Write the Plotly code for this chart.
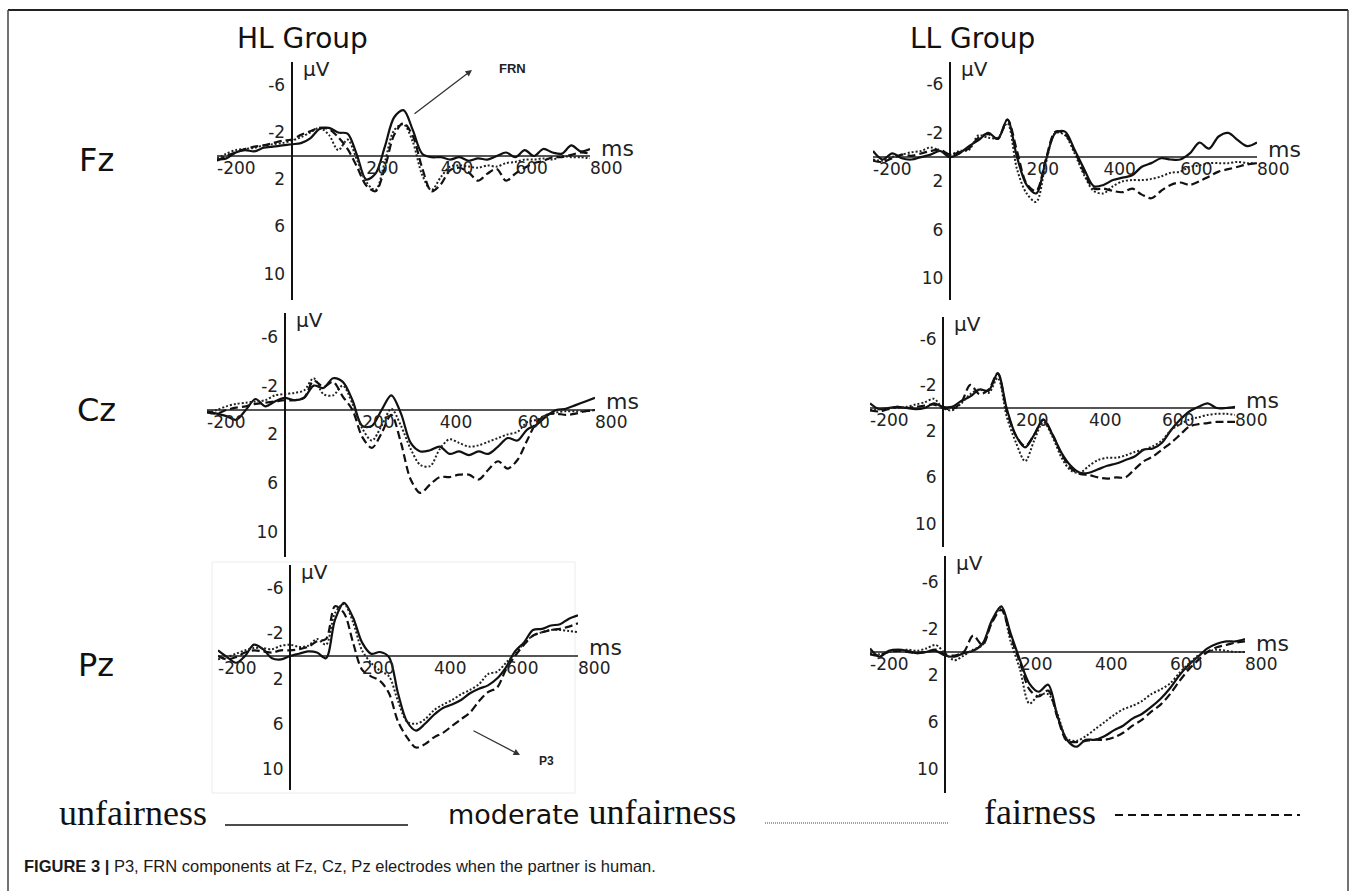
import plotly.graph_objects as go

W, H = 1357, 891

# ---------------- data (time in ms, amplitude in microvolts) ----------------
ms = list(range(-200, 801, 25))

conditions = ["unfairness", "moderate unfairness", "fairness"]
x_tick_vals = [-200, 200, 400, 600, 800]
x_tick_text = ["-200", "200", "400", "600", "800"]
y_tick_vals = [-6, -2, 2, 6, 10]
y_tick_text = ["-6", "-2", "2", "6", "10"]

hl_fz_unfair = [0.3, 0.2, -0.3, -0.5, -0.4, -0.7, -0.8, -0.9, -1.0, -1.1, -1.5, -2.3, -2.4, -2.0, -1.9, -0.1, 2.0, 1.5, -0.8, -3.3, -3.9, -2.2, -0.2, 0.1, 0.1, 0.3, 0.1, 0.4, 0.2, 0.3, 0.0, -0.3, 0.1, -0.5, 0.0, -0.6, -0.3, -0.2, -0.9, -0.4, -0.6]
hl_fz_moderate = [0.2, -0.2, -0.5, -0.6, -0.7, -0.9, -1.0, -1.1, -1.3, -1.6, -2.0, -2.4, -1.8, -0.5, -1.4, 0.3, 2.2, 2.9, 0.5, -2.2, -2.7, -1.2, 1.6, 2.9, 1.8, 0.9, 0.8, 0.9, 1.0, 0.8, 0.9, 0.6, 0.5, 0.3, 0.3, 0.2, 0.3, 0.0, 0.1, 0.1, 0.2]
hl_fz_fair = [0.4, 0.0, -0.3, -0.6, -0.8, -0.9, -1.1, -1.3, -1.4, -1.8, -2.1, -2.4, -2.3, -1.6, -0.6, 0.9, 2.5, 3.0, 1.0, -1.8, -2.8, -1.7, 1.0, 3.0, 2.4, 1.2, 1.0, 1.4, 2.1, 1.5, 1.1, 2.1, 1.5, 1.0, 0.6, 0.4, 0.1, 0.1, -0.1, -0.3, -0.2]

ll_fz_unfair = [-0.5, 0.2, -0.3, 0.1, 0.2, 0.0, -0.2, -0.5, 0.0, -0.3, -0.9, -1.4, -2.0, -1.5, -3.1, 0.0, 2.3, 3.0, 0.3, -2.0, -2.1, -0.6, 1.0, 2.4, 2.3, 1.9, 1.7, 1.5, 0.8, 0.5, 0.1, 0.2, 0.2, -0.3, -1.2, -0.7, -1.7, -2.0, -1.4, -0.9, -1.2]
ll_fz_moderate = [0.2, 0.3, 0.0, -0.2, -0.4, -0.5, -0.8, -0.5, -0.2, -0.5, -0.6, -1.8, -1.6, -1.6, -2.8, 1.0, 3.0, 3.7, 0.5, -2.0, -1.8, -0.3, 1.5, 2.8, 3.0, 2.4, 2.0, 1.9, 1.9, 1.8, 1.6, 1.3, 1.2, 0.8, 0.7, 0.5, 0.5, 0.5, 0.4, 0.5, 0.5]
ll_fz_fair = [0.3, 0.4, 0.1, -0.2, -0.1, -0.3, -0.5, -0.6, -0.2, -0.4, -0.7, -1.6, -1.9, -1.5, -3.1, -0.5, 2.2, 2.8, 0.2, -2.1, -1.9, -0.5, 1.3, 2.6, 2.6, 2.8, 2.9, 2.6, 3.1, 3.4, 2.8, 2.3, 2.1, 2.3, 2.0, 1.6, 1.2, 1.0, 0.8, 0.6, 0.5]

hl_cz_unfair = [0.1, 0.3, 0.5, 0.8, 0.0, -0.9, -0.3, -0.7, -1.0, -0.8, -1.0, -2.0, -1.8, -2.6, -2.3, -0.8, 1.3, 1.3, 0.0, -1.2, 0.3, 2.7, 3.4, 3.3, 3.0, 3.6, 3.4, 3.7, 3.4, 3.6, 3.0, 2.3, 2.5, 1.6, 1.2, 0.5, 0.0, -0.1, -0.4, -0.7, -1.0]
hl_cz_moderate = [0.2, 0.0, -0.3, -0.5, -0.6, -0.7, -0.8, -1.2, -1.3, -1.4, -1.6, -2.6, -1.3, -1.2, -2.0, -0.5, 1.5, 2.5, 1.3, -0.1, 1.3, 3.2, 4.5, 4.6, 3.2, 2.4, 2.7, 3.0, 2.9, 2.6, 2.3, 2.0, 1.8, 1.0, 0.8, 0.4, 0.2, 0.1, 0.1, 0.1, 0.0]
hl_cz_fair = [0.2, 0.3, 0.0, -0.2, -0.3, -0.5, -0.6, -0.7, -0.8, -0.8, -1.0, -2.4, -1.9, -2.3, -1.1, 0.0, 2.2, 3.1, 1.9, 0.4, 2.7, 5.7, 6.8, 6.1, 5.5, 5.5, 5.3, 5.3, 5.7, 4.9, 4.2, 4.8, 4.1, 2.5, 1.0, 0.4, 0.3, 0.4, 0.3, 0.1, 0.0]

ll_cz_unfair = [-0.4, 0.1, 0.0, -0.1, 0.0, 0.1, 0.0, -0.4, -0.1, -0.1, -0.6, -1.0, -1.6, -1.5, -3.0, 0.1, 2.4, 3.4, 2.3, 1.0, 2.3, 3.9, 5.0, 5.6, 5.6, 5.3, 5.0, 4.8, 4.5, 4.2, 3.6, 3.5, 3.0, 1.9, 1.0, 0.3, -0.1, -0.4, 0.0, 0.0, -0.1]
ll_cz_moderate = [0.2, 0.1, 0.0, 0.0, -0.1, -0.3, -0.5, -0.8, 0.0, 0.2, -0.4, -1.2, -1.6, -1.3, -2.6, 0.8, 3.0, 4.6, 2.8, 1.2, 2.5, 4.3, 5.4, 5.6, 5.0, 4.5, 4.3, 4.3, 4.1, 3.8, 3.6, 3.3, 2.8, 1.9, 1.4, 1.0, 0.8, 0.6, 0.5, 0.5, 0.6]
ll_cz_fair = [0.2, 0.3, 0.1, -0.1, 0.0, -0.1, -0.2, -0.3, 0.0, 0.1, -0.5, -2.0, -1.2, -1.6, -3.0, 0.3, 2.4, 3.3, 2.3, 1.0, 2.3, 4.0, 5.2, 5.7, 5.8, 6.0, 6.1, 6.0, 6.0, 5.3, 4.6, 4.2, 3.6, 3.0, 2.3, 1.6, 1.4, 1.3, 1.2, 1.2, 1.2]

hl_pz_unfair = [-0.5, 0.1, 0.6, 0.0, -1.0, -0.6, 0.2, 0.3, 0.0, -0.2, -0.4, -0.3, 0.2, -3.2, -4.7, -3.4, -1.2, -0.2, -0.35, 0.1, 3.3, 5.8, 6.6, 6.0, 5.2, 4.6, 4.3, 3.9, 3.3, 2.9, 2.6, 2.0, 1.0, -0.4, -1.2, -2.3, -2.4, -2.7, -2.8, -3.3, -3.6]
hl_pz_moderate = [0.3, 0.1, -0.2, -0.5, -0.7, -0.7, -0.6, -0.9, -1.0, -0.8, -0.9, -1.5, -1.0, -3.8, -4.6, -3.0, -0.5, 0.6, 1.3, 1.8, 4.0, 5.8, 6.0, 5.6, 4.8, 4.3, 3.9, 3.4, 3.0, 2.5, 1.6, 1.4, 0.6, -0.2, -1.1, -1.8, -2.1, -2.3, -2.3, -2.2, -2.1]
hl_pz_fair = [0.0, 0.3, 0.1, -0.3, -0.5, -0.4, -0.3, -0.5, -0.5, -0.6, -0.8, -1.3, -1.5, -4.4, -3.8, -1.2, 1.2, 1.8, 2.2, 3.3, 5.8, 7.2, 8.1, 7.8, 7.2, 6.8, 6.2, 5.6, 5.0, 4.0, 3.2, 2.8, 1.2, 0.0, -1.0, -1.8, -2.1, -2.3, -2.4, -2.6, -2.9]

ll_pz_unfair = [-0.3, 0.4, -0.1, -0.2, -0.1, 0.1, 0.0, -0.1, 0.3, 0.4, 0.1, -0.1, -0.7, -2.7, -3.9, -1.6, 0.7, 2.7, 3.4, 2.8, 5.5, 7.5, 8.1, 7.5, 7.5, 7.2, 6.7, 6.3, 5.7, 5.3, 4.7, 4.0, 3.1, 2.0, 1.1, 0.4, -0.3, -0.7, -0.9, -0.9, -1.1]
ll_pz_moderate = [0.1, 0.2, 0.0, -0.1, -0.2, -0.1, -0.3, -0.6, 0.1, 0.7, 0.3, -0.2, -0.6, -2.6, -3.8, -0.9, 1.5, 4.4, 3.7, 3.6, 5.3, 7.4, 7.6, 7.2, 6.6, 6.0, 5.4, 4.9, 4.6, 4.2, 3.6, 3.2, 2.7, 1.8, 1.0, 0.3, 0.0, -0.2, -0.1, 0.0, 0.0]
ll_pz_fair = [0.2, 0.3, 0.0, -0.1, 0.0, 0.1, 0.0, -0.2, 0.2, 0.3, 0.0, -1.4, -0.6, -2.5, -3.6, -1.3, 0.9, 3.2, 3.8, 3.3, 5.6, 7.6, 7.7, 7.6, 7.5, 7.5, 7.3, 6.9, 6.3, 5.8, 5.1, 4.5, 3.6, 2.5, 1.5, 0.7, 0.0, -0.4, -0.6, -0.8, -0.9]

# ---------------- layout geometry (pixels) ----------------
def px(x):
    return x / W

def py(y):
    return 1 - y / H

# x0, x1 (ms -200..800), ytop, ybot (pixels), value at top, value at bottom
panels = [
    dict(x0=217, x1=590, yt=62, yb=300, vt=-8.0, vb=12.25, series=(hl_fz_unfair, hl_fz_moderate, hl_fz_fair)),
    dict(x0=873, x1=1257, yt=62, yb=300, vt=-7.85, vb=11.8, series=(ll_fz_unfair, ll_fz_moderate, ll_fz_fair)),
    dict(x0=207, x1=595, yt=313, yb=557, vt=-7.95, vb=12.05, series=(hl_cz_unfair, hl_cz_moderate, hl_cz_fair)),
    dict(x0=870, x1=1235, yt=317, yb=547, vt=-7.87, vb=12.02, series=(ll_cz_unfair, ll_cz_moderate, ll_cz_fair)),
    dict(x0=218, x1=578, yt=565, yb=790, vt=-8.05, vb=11.86, series=(hl_pz_unfair, hl_pz_moderate, hl_pz_fair)),
    dict(x0=870, x1=1245, yt=556, yb=793, vt=-8.2, vb=12.05, series=(ll_pz_unfair, ll_pz_moderate, ll_pz_fair)),
]

styles = [
    dict(color="#111111", width=2.2, dash="solid"),
    dict(color="#222222", width=2.0, dash="2px,2px"),
    dict(color="#111111", width=2.2, dash="8px,4px"),
]

TICKFONT = dict(family="DejaVu Sans, Verdana, sans-serif", size=17, color="#222222")

fig = go.Figure()
layout = dict(
    width=W, height=H, autosize=False,
    margin=dict(l=0, r=0, t=0, b=0, pad=0, autoexpand=False),
    paper_bgcolor="white", plot_bgcolor="rgba(0,0,0,0)",
    showlegend=False,
)
annotations = []
shapes = []

for i, p in enumerate(panels, start=1):
    xa = "x" if i == 1 else f"x{i}"
    ya = "y" if i == 1 else f"y{i}"
    xkey = "xaxis" if i == 1 else f"xaxis{i}"
    ykey = "yaxis" if i == 1 else f"yaxis{i}"
    x_zero_px = p["x0"] + 0.2 * (p["x1"] - p["x0"])
    y_zero_px = p["yt"] + (0 - p["vt"]) / (p["vb"] - p["vt"]) * (p["yb"] - p["yt"])
    for vals, st, name in zip(p["series"], styles, conditions):
        fig.add_trace(go.Scatter(
            x=ms, y=vals, mode="lines", name=name,
            line=dict(color=st["color"], width=st["width"], dash=st["dash"], shape="spline", smoothing=0.9),
            xaxis=xa, yaxis=ya, hoverinfo="skip",
        ))
    layout[xkey] = dict(
        domain=[px(p["x0"]), px(p["x1"])], range=[-200, 800],
        anchor="free", position=py(y_zero_px), automargin=False,
        showgrid=False, zeroline=False, showline=False,
        tickvals=x_tick_vals, ticktext=x_tick_text, ticks="", ticklabelposition="outside right",
        tickfont=TICKFONT, ticklabelstandoff=0,
    )
    layout[ykey] = dict(
        domain=[py(p["yb"]), py(p["yt"])], range=[p["vb"], p["vt"]],
        anchor="free", position=px(x_zero_px), automargin=False,
        showgrid=False, showline=True, linecolor="#111111", linewidth=2,
        zeroline=True, zerolinecolor="#555555", zerolinewidth=1.5,
        tickvals=y_tick_vals, ticktext=y_tick_text, ticks="", tickfont=TICKFONT, ticklabelstandoff=2,
    )
    annotations.append(dict(text="μV", x=px(x_zero_px + 9), y=py(p["yt"] + 7), xref="paper", yref="paper",
                            xanchor="left", yanchor="middle", showarrow=False,
                            font=dict(family="DejaVu Sans, sans-serif", size=20, color="#222222")))
    annotations.append(dict(text="ms", x=px(p["x1"] + 9), y=py(y_zero_px - 8), xref="paper", yref="paper",
                            xanchor="left", yanchor="middle", showarrow=False,
                            font=dict(family="DejaVu Sans, sans-serif", size=22, color="#222222")))

# group titles and electrode labels
title_font = dict(family="DejaVu Sans, Verdana, sans-serif", size=28, color="#111111")
annotations.append(dict(text="HL Group", x=px(302), y=py(38), xref="paper", yref="paper",
                        xanchor="center", yanchor="middle", showarrow=False, font=title_font))
annotations.append(dict(text="LL Group", x=px(972), y=py(38), xref="paper", yref="paper",
                        xanchor="center", yanchor="middle", showarrow=False, font=title_font))
row_font = dict(family="DejaVu Sans, Verdana, sans-serif", size=32, color="#111111")
for lab, yy in [("Fz", 160), ("Cz", 410), ("Pz", 665)]:
    annotations.append(dict(text=lab, x=px(96), y=py(yy), xref="paper", yref="paper",
                            xanchor="center", yanchor="middle", showarrow=False, font=row_font))

# component markers
annotations.append(dict(text="", x=px(472), y=py(70), xref="paper", yref="paper",
                        ax=413 - 472, ay=115 - 70, showarrow=True, arrowhead=2, arrowsize=1,
                        arrowwidth=1.3, arrowcolor="#333333"))
annotations.append(dict(text="<b>FRN</b>", x=px(512), y=py(69), xref="paper", yref="paper",
                        xanchor="center", yanchor="middle", showarrow=False,
                        font=dict(family="Liberation Sans, Arial, sans-serif", size=13, color="#222222")))
annotations.append(dict(text="", x=px(520), y=py(755), xref="paper", yref="paper",
                        ax=472 - 520, ay=730 - 755, showarrow=True, arrowhead=2, arrowsize=1,
                        arrowwidth=1.3, arrowcolor="#333333"))
annotations.append(dict(text="<b>P3</b>", x=px(546), y=py(761), xref="paper", yref="paper",
                        xanchor="center", yanchor="middle", showarrow=False,
                        font=dict(family="Liberation Sans, Arial, sans-serif", size=12, color="#222222")))

# custom legend (text followed by line sample)
serif = "Liberation Serif, Times New Roman, serif"
annotations.append(dict(text="unfairness", x=px(57), y=py(813), xref="paper", yref="paper",
                        xanchor="left", yanchor="middle", showarrow=False,
                        font=dict(family=serif, size=36, color="#111111")))
annotations.append(dict(text="<span style='font-family:DejaVu Sans;font-size:27px'>moderate</span> unfairness",
                        x=px(446), y=py(812), xref="paper", yref="paper",
                        xanchor="left", yanchor="middle", showarrow=False,
                        font=dict(family=serif, size=36, color="#111111")))
annotations.append(dict(text="fairness", x=px(982), y=py(812), xref="paper", yref="paper",
                        xanchor="left", yanchor="middle", showarrow=False,
                        font=dict(family=serif, size=36, color="#111111")))
shapes.append(dict(type="line", xref="paper", yref="paper", x0=px(225), x1=px(408), y0=py(825), y1=py(825),
                   line=dict(color="#111111", width=1.6)))
shapes.append(dict(type="line", xref="paper", yref="paper", x0=px(765), x1=px(948), y0=py(823), y1=py(823),
                   line=dict(color="#444444", width=1.2, dash="1px,1px")))
shapes.append(dict(type="line", xref="paper", yref="paper", x0=px(1115), x1=px(1300), y0=py(815), y1=py(815),
                   line=dict(color="#111111", width=1.8, dash="8px,5px")))

# caption
annotations.append(dict(text="<b>FIGURE 3 |</b> P3, FRN components at Fz, Cz, Pz electrodes when the partner is human.",
                        x=px(22), y=py(866), xref="paper", yref="paper",
                        xanchor="left", yanchor="middle", showarrow=False,
                        font=dict(family="Liberation Sans, Arial, sans-serif", size=16.5, color="#1a1a1a")))

# frame and pasted-image box
frame = dict(color="#444444", width=1.5)
shapes.append(dict(type="line", xref="paper", yref="paper", x0=px(8), x1=px(1348), y0=py(10), y1=py(10), line=dict(color="#222222", width=2)))
shapes.append(dict(type="line", xref="paper", yref="paper", x0=px(8), x1=px(8), y0=py(10), y1=0, line=frame))
shapes.append(dict(type="line", xref="paper", yref="paper", x0=px(1348), x1=px(1348), y0=py(10), y1=0, line=frame))
shapes.append(dict(type="rect", xref="paper", yref="paper", x0=px(212), x1=px(575), y0=py(562), y1=py(793),
                   line=dict(color="#ececec", width=1), layer="below"))

layout["annotations"] = annotations
layout["shapes"] = shapes
fig.update_layout(**layout)
fig.write_html("out.html", config={"displayModeBar": False},
               post_script="document.body.style.margin='0';document.body.style.overflow='hidden';")
